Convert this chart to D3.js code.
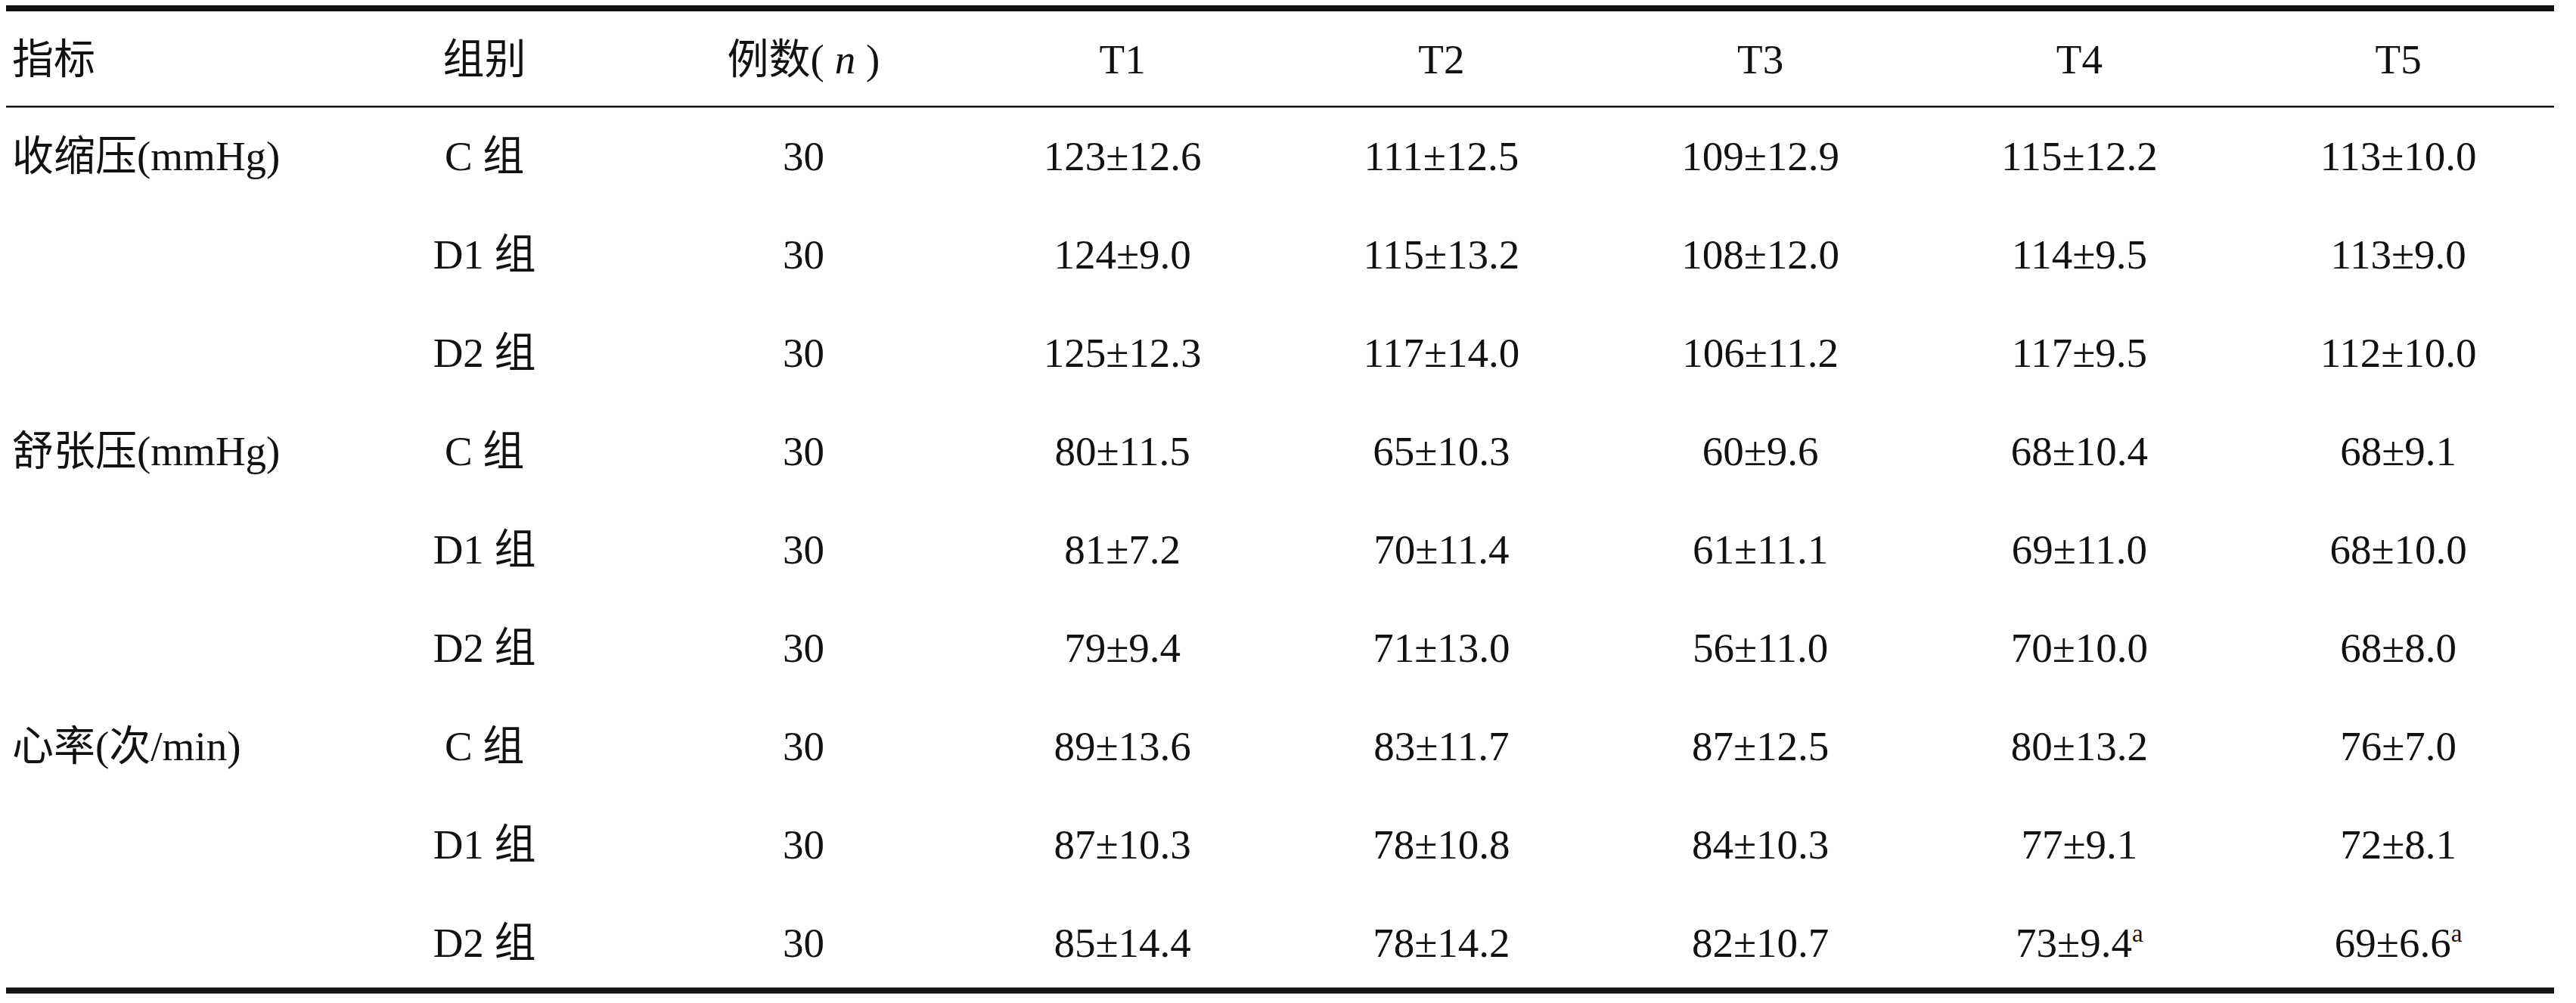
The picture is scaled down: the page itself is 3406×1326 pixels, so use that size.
<!DOCTYPE html>
<html>
<head>
<meta charset="utf-8">
<script src="https://cdn.jsdelivr.net/npm/d3@7"></script>
<style>
  body { margin: 0; background: #fff; }
  svg text { font-family: "Liberation Serif", "Noto Sans CJK SC", serif; fill: #111; }
</style>
</head>
<body>
<svg id="chart" width="3406" height="1326"></svg>
<script>
// table content
var headers   = ['指标', '组别', '例数', 'T1', 'T2', 'T3', 'T4', 'T5']
var indicators = ['收缩压(mmHg)', '舒张压(mmHg)', '心率(次/min)']
var groups    = ['C 组', 'D1 组', 'D2 组']
var counts    = [30, 30, 30]

// mean per indicator / group / time point
var means = [
  [[123, 111, 109, 115, 113], [124, 115, 108, 114, 113], [125, 117, 106, 117, 112]],
  [[80, 65, 60, 68, 68],      [81, 70, 61, 69, 68],      [79, 71, 56, 70, 68]],
  [[89, 83, 87, 80, 76],      [87, 78, 84, 77, 72],      [85, 78, 82, 73, 69]]
]
// standard deviations
var sds = [
  [[12.6, 12.5, 12.9, 12.2, 10.0], [9.0, 13.2, 12.0, 9.5, 9.0], [12.3, 14.0, 11.2, 9.5, 10.0]],
  [[11.5, 10.3, 9.6, 10.4, 9.1],   [7.2, 11.4, 11.1, 11.0, 10.0], [9.4, 13.0, 11.0, 10.0, 8.0]],
  [[13.6, 11.7, 12.5, 13.2, 7.0],  [10.3, 10.8, 10.3, 9.1, 8.1], [14.4, 14.2, 10.7, 9.4, 6.6]]
]
// significance marks
var marks = [
  [['', '', '', '', ''], ['', '', '', '', ''], ['', '', '', '', '']],
  [['', '', '', '', ''], ['', '', '', '', ''], ['', '', '', '', '']],
  [['', '', '', '', ''], ['', '', '', '', ''], ['', '', '', 'a', 'a']]
]

var svg = d3.select('#chart')
var fontSize = 55

var x = d3.scaleBand().domain(headers).range([8, 3382])
var nRows = indicators.length * groups.length
var y = d3.scaleLinear().domain([0, nRows - 1]).range([225, 1265])
var headerY = 97

var cx = h => x(h) + x.bandwidth() / 2

// rules
var rules = [
  { y: 11,   w: 8 },
  { y: 141,  w: 2.5 },
  { y: 1309.5, w: 8 }
]
svg.selectAll('line.rule')
  .data(rules)
  .enter()
  .append('line')
  .attr('class', 'rule')
  .attr('x1', 8)
  .attr('x2', 3377)
  .attr('y1', d => d.y)
  .attr('y2', d => d.y)
  .style('stroke', '#111')
  .style('stroke-width', d => d.w)

// header
var head = svg.selectAll('text.head')
  .data(headers)
  .enter()
  .append('text')
  .attr('class', 'head')
  .attr('x', (d, i) => i === 0 ? 16 : cx(d))
  .attr('y', headerY)
  .attr('text-anchor', (d, i) => i === 0 ? 'start' : 'middle')
  .style('font-size', fontSize + 'px')
  .text(d => d === '例数' ? null : d)

head.filter(d => d === '例数').each(function () {
  let t = d3.select(this)
  t.append('tspan').text('例数( ')
  t.append('tspan').style('font-style', 'italic').text('n')
  t.append('tspan').text(' )')
})

// body rows
var rows = []
indicators.forEach(function (ind, i) {
  groups.forEach(function (g, j) {
    rows.push({ ind: j === 0 ? ind : '', group: g, n: counts[j], i: i, j: j, r: i * groups.length + j })
  })
})

var row = svg.selectAll('g.row')
  .data(rows)
  .enter()
  .append('g')
  .attr('class', 'row')
  .attr('transform', d => 'translate(0,' + y(d.r) + ')')

row.append('text')
  .attr('x', 16)
  .style('font-size', fontSize + 'px')
  .text(d => d.ind)

row.append('text')
  .attr('x', cx('组别'))
  .attr('text-anchor', 'middle')
  .style('font-size', fontSize + 'px')
  .text(d => d.group)

row.append('text')
  .attr('x', cx('例数'))
  .attr('text-anchor', 'middle')
  .style('font-size', fontSize + 'px')
  .text(d => d.n)

var times = headers.slice(3)
row.each(function (d) {
  let g = d3.select(this)
  times.forEach(function (t, k) {
    let txt = g.append('text')
      .attr('x', cx(t))
      .attr('text-anchor', 'middle')
      .style('font-size', fontSize + 'px')
    txt.append('tspan').text(means[d.i][d.j][k] + '±' + sds[d.i][d.j][k].toFixed(1))
    let m = marks[d.i][d.j][k]
    if (m) {
      txt.append('tspan')
        .attr('dy', -20)
        .style('font-size', '33px')
        .text(m)
    }
  })
})
</script>
</body>
</html>
